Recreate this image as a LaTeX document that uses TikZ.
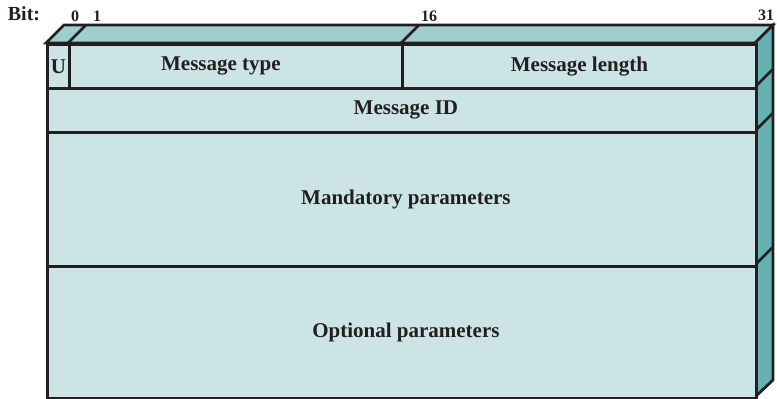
\documentclass[tikz,border=0pt]{standalone}
\usepackage{fontspec}
\setmainfont{Liberation Serif}
\usetikzlibrary{positioning}
\definecolor{FrontFace}{RGB}{205,228,230}
\definecolor{TopFace}{RGB}{160,206,206}
\definecolor{SideFace}{RGB}{102,178,178}
\definecolor{EdgeGray}{RGB}{35,31,32}
\begin{document}
\begin{tikzpicture}[x=0.5pt, y=-0.5pt,
    field/.style={draw=EdgeGray, fill=FrontFace, line width=1.4pt, anchor=north west, inner sep=0pt, font=\fontsize{10.5}{12}\selectfont\bfseries, text=EdgeGray},
    face/.style={draw=EdgeGray, line width=1.4pt, line join=miter},
    bitnum/.style={font=\fontsize{8}{9}\selectfont\bfseries, text=EdgeGray, inner sep=0pt}
  ]
    \useasboundingbox (0,0) rectangle (777,399);
    % Top and side faces
    \filldraw[face, fill=TopFace] (46,43) -- (64,25) -- (773,25) -- (755,43) -- cycle;
    \filldraw[face, fill=SideFace] (755,43) -- (773,25) -- (773,380) -- (755,397) -- cycle;
    \draw[face] (68,43) -- (86,25);
    \draw[face] (401,43) -- (419,25);
    \draw[face] (755,87) -- (773,69);
    \draw[face] (755,131) -- (773,113);
    \draw[face] (755,265) -- (773,247);

    % Header fields
    \node[field, minimum width=11pt, minimum height=22pt] (u) at (46,43) {U};
    \node[field, minimum width=166.5pt, minimum height=22pt] (type) at (68,43) {Message type\hspace*{15pt}};
    \node[field, minimum width=177pt, minimum height=22pt] (length) at (401,43) {Message length};
    \node[field, minimum width=354.5pt, minimum height=22pt] (id) at (46,87) {\hspace*{4pt}Message ID};
    \node[field, minimum width=354.5pt, minimum height=67pt] (mand) at (46,131) {\hspace*{4pt}Mandatory parameters};
    \node[field, minimum width=354.5pt, minimum height=66pt] (opt) at (46,265) {\hspace*{4pt}Optional parameters};

    % Bit numbers
    \node[font=\fontsize{10}{11}\selectfont\bfseries, text=EdgeGray, inner sep=0pt] (bit) at (24,14) {Bit:};
    \node[bitnum] (b0) at (75,16) {0};
    \node[bitnum] (b1) at (97,16) {1};
    \node[bitnum] (b16) at (429,16) {16};
    \node[bitnum] (b31) at (766,15) {31};
  \end{tikzpicture}
\end{document}
